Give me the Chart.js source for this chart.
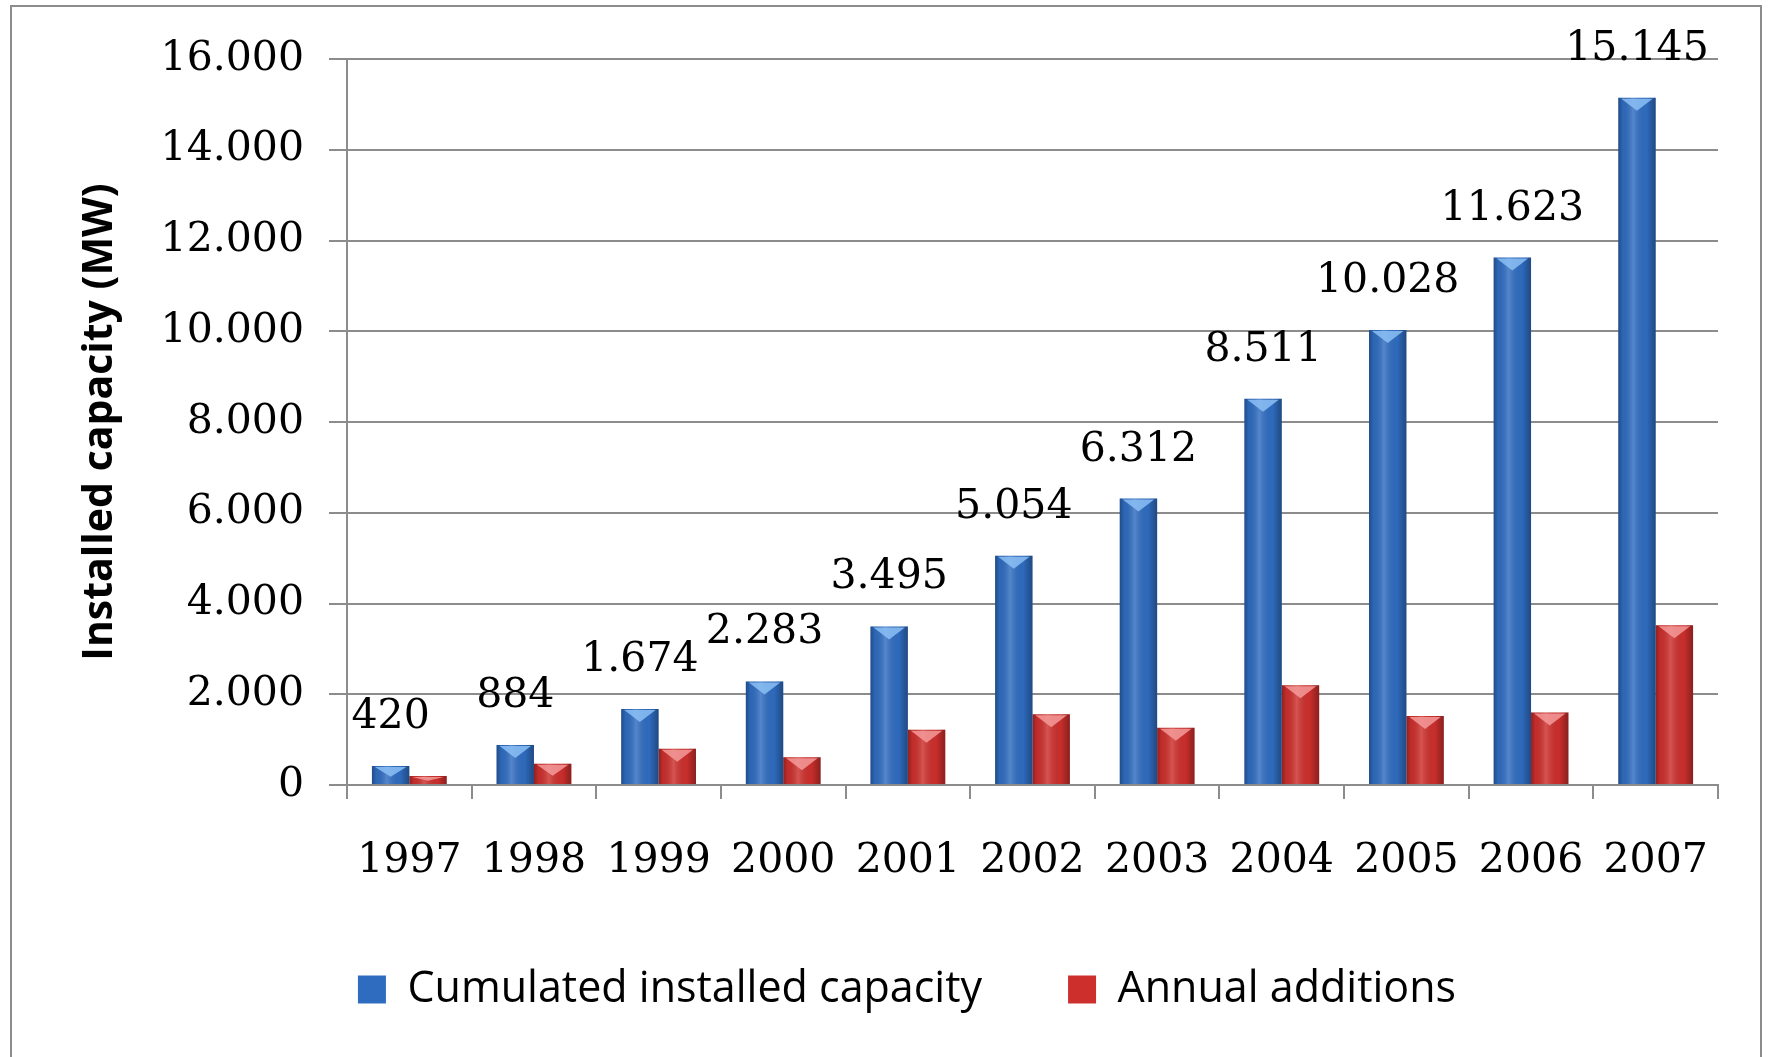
<!DOCTYPE html>
<html>
<head>
<meta charset="utf-8">
<title>Installed capacity</title>
<script src="https://cdn.jsdelivr.net/npm/chart.js@4.4.1/dist/chart.umd.min.js"></script>
<style>
html, body { margin: 0; padding: 0; background: #fff; }
#wrap { position: relative; width: 1773px; height: 1057px; overflow: hidden; }
#frame { position: absolute; left: 10px; top: 5px; width: 1752px; height: 1080px; border: 2px solid #8c8c8c; box-sizing: border-box; }
#chart { position: absolute; left: 0; top: 0; }
</style>
</head>
<body>
<div id="wrap">
  <div id="frame"></div>
  <canvas id="chart" width="1773" height="1057"></canvas>
</div>
<script>
'use strict';

const years = ['1997', '1998', '1999', '2000', '2001', '2002', '2003', '2004', '2005', '2006', '2007'];
const cumulated = [420, 884, 1674, 2283, 3495, 5054, 6312, 8511, 10028, 11623, 15145];
const annual = [200, 470, 800, 610, 1220, 1560, 1260, 2200, 1520, 1600, 3520];
const yTicks = [0, 2000, 4000, 6000, 8000, 10000, 12000, 14000, 16000];

const SERIF = '"DejaVu Serif", serif';
const SANS = '"Open Sans", Lato, sans-serif';

function fmt(v) {
    return String(v).replace(/\B(?=(\d{3})+(?!\d))/g, '.');
}

// shading and the light chevron on top of each bar
const barShade = {
    id: 'barShade',
    afterDatasetDraw(chart, args) {
        const ctx = chart.ctx;
        const light = args.index === 0 ? '#8cc0f5' : '#f59a9a';
        args.meta.data.forEach(bar => {
            const { x, y, base, width } = bar.getProps(['x', 'y', 'base', 'width'], true);
            const l = x - width / 2;
            const g = ctx.createLinearGradient(l, 0, l + width, 0);
            g.addColorStop(0, 'rgba(0,0,0,0.30)');
            g.addColorStop(0.12, 'rgba(0,0,0,0.05)');
            g.addColorStop(0.4, 'rgba(255,255,255,0.18)');
            g.addColorStop(0.75, 'rgba(0,0,0,0.02)');
            g.addColorStop(1, 'rgba(0,0,0,0.32)');
            ctx.save();
            ctx.fillStyle = g;
            ctx.fillRect(l, y, width, base - y);
            const h = Math.min(13, (base - y) * 0.6);
            ctx.fillStyle = light;
            ctx.globalAlpha = 0.85;
            ctx.beginPath();
            ctx.moveTo(l + 3, y + 1);
            ctx.lineTo(l + width - 3, y + 1);
            ctx.lineTo(x, y + h);
            ctx.closePath();
            ctx.fill();
            ctx.restore();
        });
    }
};

// value labels above the cumulated bars
const valueLabels = {
    id: 'valueLabels',
    afterDatasetsDraw(chart) {
        const ctx = chart.ctx;
        const meta = chart.getDatasetMeta(0);
        ctx.save();
        ctx.font = '41px ' + SERIF;
        ctx.fillStyle = '#000';
        ctx.textAlign = 'center';
        ctx.textBaseline = 'alphabetic';
        meta.data.forEach((bar, i) => {
            ctx.fillText(fmt(cumulated[i]), bar.x, bar.y - 38);
        });
        ctx.restore();
    }
};

// chart.js centres the legend row including the trailing padding, move it back
const legendShift = {
    id: 'legendShift',
    afterLayout(chart) {
        const lg = chart.legend;
        if (!lg) return;
        lg.left += 48;
        lg.right += 48;
    }
};

new Chart(document.getElementById('chart'), {
    type: 'bar',
    data: {
        labels: years,
        datasets: [
            {
                label: 'Cumulated installed capacity',
                data: cumulated,
                backgroundColor: '#2f6cc0',
                borderWidth: 0
            },
            {
                label: 'Annual additions',
                data: annual,
                backgroundColor: '#cc2f2c',
                borderWidth: 0
            }
        ]
    },
    options: {
        responsive: false,
        animation: false,
        events: [],
        layout: { padding: { top: 59, right: 55, bottom: 36, left: 0 } },
        datasets: { bar: { categoryPercentage: 0.6, barPercentage: 1.0 } },
        plugins: {
            tooltip: { enabled: false },
            legend: {
                position: 'bottom',
                labels: {
                    font: { family: SANS, size: 43 },
                    color: '#000',
                    boxWidth: 28,
                    boxHeight: 28,
                    padding: 86
                }
            }
        },
        scales: {
            x: {
                grid: { offset: true, drawOnChartArea: false, color: '#8c8c8c', lineWidth: 2, tickLength: 14 },
                border: { color: '#8c8c8c', width: 2 },
                ticks: { font: { family: SERIF, size: 41 }, color: '#000', padding: 38, maxRotation: 0 },
                afterFit(scale) { scale.height = 97; }
            },
            y: {
                min: yTicks[0],
                max: yTicks[yTicks.length - 1],
                ticks: {
                    stepSize: yTicks[1] - yTicks[0],
                    font: { family: SERIF, size: 41 },
                    color: '#000',
                    padding: 25,
                    callback: v => fmt(v)
                },
                grid: { color: '#8c8c8c', lineWidth: 2, tickLength: 18 },
                border: { color: '#8c8c8c', width: 2 },
                title: {
                    display: true,
                    text: 'Installed capacity (MW)',
                    font: { family: SANS, size: 41, weight: 'bold' },
                    color: '#000',
                    padding: { top: 76, bottom: 0 }
                },
                afterFit(scale) { scale.width = 347; }
            }
        }
    },
    plugins: [barShade, valueLabels, legendShift]
});
</script>
</body>
</html>
